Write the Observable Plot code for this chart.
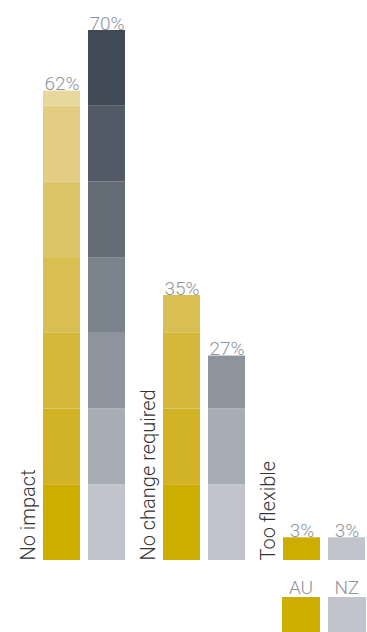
<!DOCTYPE html>
<html>
<head>
<meta charset="utf-8">
<script src="https://cdn.jsdelivr.net/npm/d3@7"></script>
<script src="https://cdn.jsdelivr.net/npm/@observablehq/plot@0.6"></script>
<style>
  body { margin: 0; background: #fff; font-family: Roboto, "Liberation Sans", sans-serif; font-weight: 300; }
  #legend { display: flex; padding-left: 282px; gap: 8px; margin-top: 17px; }
  #legend .item { width: 38px; display: flex; flex-direction: column; align-items: center; }
  #legend .lbl { font-size: 19px; color: #8e949c; line-height: 18px; height: 18px; }
  #legend .sw { width: 38px; height: 35px; }
</style>
</head>
<body>
<div id="chart"></div>
<div id="legend"></div>
<script>
const categories = ["No impact", "No change required", "Too flexible"];
const countries = ["AU", "NZ"];
const auValues = [62, 35, 3];
const nzValues = [70, 27, 3];
const bandStep = 10;
const auShades = ["#cbae00", "#d1b325", "#d5b83a", "#d9be52", "#ddc466", "#e2cd82", "#e9d89c"];
const nzShades = ["#c1c4cc", "#a7adb4", "#8e949d", "#7a828b", "#646c76", "#525b65", "#404a55"];
const legendColors = {AU: auShades[0], NZ: nzShades[0]};

const bars = [];
categories.forEach((c, i) => {
  [["AU", auValues[i]], ["NZ", nzValues[i]]].forEach(([country, v]) => {
    bars.push({category: c, country, value: v});
  });
});
const segments = [];
bars.forEach(b => {
  for (let k = 0; k * bandStep < b.value; k++) {
    const shades = b.country === "AU" ? auShades : nzShades;
    segments.push({
      category: b.category, country: b.country,
      y1: k * bandStep, y2: Math.min(b.value, (k + 1) * bandStep),
      color: shades[k]
    });
  }
});

const chart = Plot.plot({
  width: 367,
  height: 562,
  marginTop: 30,
  marginBottom: 2,
  marginLeft: 41,
  marginRight: 1,
  style: {fontFamily: "Roboto, 'Liberation Sans', sans-serif", fontWeight: 300},
  fx: {domain: categories, paddingInner: 0.3, paddingOuter: 0, axis: null},
  x: {domain: countries, paddingInner: 0.17, paddingOuter: 0, axis: null},
  y: {domain: [0, 70], axis: null},
  color: {type: "identity"},
  marks: [
    Plot.rectY(segments, {fx: "category", x: "country", y1: "y1", y2: "y2", fill: "color"}),
    Plot.text(bars, {fx: "category", x: "country", y: "value", text: d => d.value + "%", lineAnchor: "bottom", dy: -1, fontSize: 19, fill: "#8e949c"}),
    Plot.text(categories, {fx: d => d, x: () => "AU", y: () => 0, text: d => d, rotate: -90, textAnchor: "start", dx: -33, fontSize: 20, fill: "#333"})
  ]
});
document.getElementById("chart").appendChild(chart);

const legend = document.getElementById("legend");
countries.forEach(c => {
  const item = document.createElement("div");
  item.className = "item";
  item.innerHTML = `<div class="lbl">${c}</div><div class="sw" style="background:${legendColors[c]}"></div>`;
  legend.appendChild(item);
});
</script>
</body>
</html>
